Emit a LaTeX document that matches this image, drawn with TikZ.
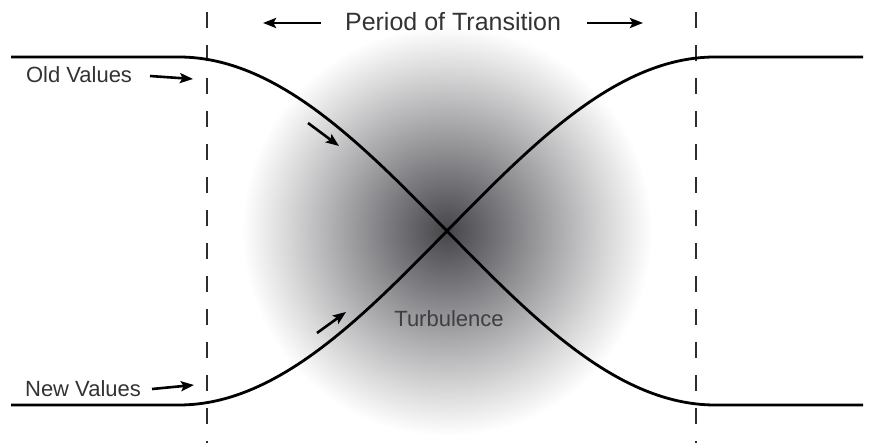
\documentclass[tikz,border=0pt]{standalone}
\usepackage{fontspec}
\setmainfont{Liberation Sans}
\usepackage{tikz}
\usetikzlibrary{positioning,arrows.meta,calc}
\definecolor{txtgray}{HTML}{333333}
\definecolor{dashgray}{HTML}{2E2E2E}
\definecolor{turbzero}{HTML}{45454A}
\definecolor{turbone}{HTML}{5B5B60}
\definecolor{turbtwo}{HTML}{9C9C9F}
\definecolor{turbthree}{HTML}{D8D8D9}
\pgfdeclareradialshading{turbulence}{\pgfpoint{0bp}{0bp}}{%
	color(0bp)=(turbzero); color(3bp)=(turbone); color(11.5bp)=(turbtwo);
	color(19.5bp)=(turbthree); color(25bp)=(white); color(50bp)=(white)}
\tikzset{
	label/.style={font=\fontsize{22}{26}\selectfont, text=txtgray, anchor=base, inner sep=0pt},
	title/.style={font=\fontsize{25}{30}\selectfont, text=txtgray, anchor=base, inner sep=0pt},
	pointer/.style={line width=2.6pt, -{Stealth[length=13pt,width=10pt,inset=2.5pt]}},
	valuecurve/.style={line width=2.8pt, black},
	boundary/.style={line width=2.2pt, dashgray, dash pattern=on 16pt off 17pt}
}

\begin{document}
\begin{tikzpicture}[x=1pt,y=-1pt]
	\useasboundingbox (0,0) rectangle (873,443);
	% turbulence cloud
	\coordinate (cross) at (447,231);
	\shade[shading=turbulence] ($(cross)+(-205,-205)$) rectangle ($(cross)+(205,205)$);
	% period boundaries
	\coordinate (leftTop) at (207,12);
	\coordinate (leftBot) at (207,443);
	\coordinate (rightTop) at (696,12);
	\coordinate (rightBot) at (696,443);
	\draw[boundary] (leftTop) -- (leftBot);
	\draw[boundary] (rightTop) -- (rightBot);
	% curves
	\coordinate (oldStart) at (11,57);
	\coordinate (oldBend) at (179,57);
	\coordinate (oldLand) at (715,405);
	\coordinate (oldEnd) at (863,405);
	\coordinate (newStart) at (11,405);
	\coordinate (newBend) at (179,405);
	\coordinate (newLand) at (715,57);
	\coordinate (newEnd) at (863,57);
	\draw[valuecurve] (oldStart) -- (oldBend) .. controls (374,57) and (520,405) .. (oldLand) -- (oldEnd);
	\draw[valuecurve] (newStart) -- (newBend) .. controls (374,405) and (520,57) .. (newLand) -- (newEnd);
	% labels
	\node[title] (period) at (453,31) {Period of Transition};
	\node[label] (oldLabel) at (79,83) {Old Values};
	\node[label] (newLabel) at (83,397) {New Values};
	\node[label, text=turbzero!90!black] (turbLabel) at (449,327) {Turbulence};
	% arrows
	\coordinate (periodLfrom) at (321,23);
	\coordinate (periodL) at (263,23);
	\coordinate (periodRfrom) at (587,23);
	\coordinate (periodR) at (643,23);
	\coordinate (oldTail) at (150,76);
	\coordinate (oldTip) at (193,79);
	\coordinate (newTail) at (152,389);
	\coordinate (newTip) at (194,385);
	\coordinate (oldFrom) at (308,123);
	\coordinate (oldTo) at (339,146);
	\coordinate (newFrom) at (317,333);
	\coordinate (newTo) at (346,312);
	\draw[pointer] (periodLfrom) -- (periodL);
	\draw[pointer] (periodRfrom) -- (periodR);
	\draw[pointer] (oldTail) -- (oldTip);
	\draw[pointer] (newTail) -- (newTip);
	\draw[pointer] (oldFrom) -- (oldTo);
	\draw[pointer] (newFrom) -- (newTo);
\end{tikzpicture}
\end{document}
